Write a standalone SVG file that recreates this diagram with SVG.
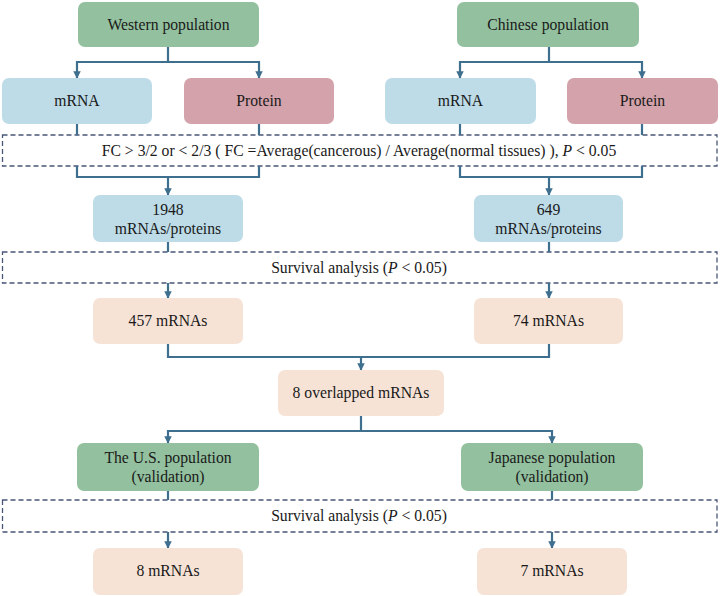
<svg xmlns="http://www.w3.org/2000/svg" width="720" height="596" viewBox="0 0 720 596">
<defs>
<style>
.green{fill:#93c19f}
.blue{fill:#bddce8}
.pink{fill:#d4a2aa}
.peach{fill:#f6e3d6}
.dash{fill:#ffffff;stroke:#4a5677;stroke-width:1.3;stroke-dasharray:5 3}
.t{font-family:"Liberation Serif","Times New Roman",serif;font-size:15.7px;fill:#1a1a1a;text-anchor:middle}
.c{fill:none;stroke:#3f6f8e;stroke-width:2.2}
</style>
<marker id="ah" viewBox="0 0 10 10" refX="9" refY="5" markerWidth="3.4" markerHeight="3.4" orient="auto" markerUnits="strokeWidth">
<path d="M0,0 L10,5 L0,10 z" fill="#3f6f8e"/>
</marker>
</defs>
<rect width="720" height="596" fill="#ffffff"/>

<g id="filters">
<rect class="dash" x="2.5" y="135" width="714.5" height="31"/>
<rect class="dash" x="2.5" y="252" width="714.5" height="31"/>
<rect class="dash" x="2.5" y="500" width="714.5" height="32"/>
</g>

<g id="connectors">
<path class="c" d="M168,47 V62 M77,62 H259 M77,61 V78" marker-end="url(#ah)"/>
<path class="c" d="M259,61 V78" marker-end="url(#ah)"/>
<path class="c" d="M549,47 V62 M460,62 H642 M460,61 V78" marker-end="url(#ah)"/>
<path class="c" d="M642,61 V78" marker-end="url(#ah)"/>
<path class="c" d="M77,124 V135 M259,124 V135 M460,124 V135 M642,124 V135"/>
<path class="c" d="M77,166 V177 H259 V166 M460,166 V177 H642 V166"/>
<path class="c" d="M168,176 V195" marker-end="url(#ah)"/>
<path class="c" d="M549,176 V195" marker-end="url(#ah)"/>
<path class="c" d="M168,242 V252 M549,242 V252"/>
<path class="c" d="M168,283 V298" marker-end="url(#ah)"/>
<path class="c" d="M549,283 V298" marker-end="url(#ah)"/>
<path class="c" d="M168,344 V357 H549 V344"/>
<path class="c" d="M361,356 V370" marker-end="url(#ah)"/>
<path class="c" d="M361,416 V431 M168,431 H552"/>
<path class="c" d="M168,430 V443" marker-end="url(#ah)"/>
<path class="c" d="M552,430 V443" marker-end="url(#ah)"/>
<path class="c" d="M168,491 V500 M552,491 V500"/>
<path class="c" d="M168,532 V548" marker-end="url(#ah)"/>
<path class="c" d="M552,532 V548" marker-end="url(#ah)"/>
</g>

<g id="filter-labels">
<text class="t" x="359" y="155.5">FC &gt; 3/2 or &lt; 2/3 ( FC =Average(cancerous) / Average(normal tissues) ), <tspan font-style="italic">P</tspan> &lt; 0.05</text>
<text class="t" x="359" y="272.5">Survival analysis (<tspan font-style="italic">P</tspan> &lt; 0.05)</text>
<text class="t" x="359" y="521">Survival analysis (<tspan font-style="italic">P</tspan> &lt; 0.05)</text>
</g>

<g id="western">
<rect class="green" x="78" y="2" width="181" height="45" rx="7"/>
<text class="t" x="168.5" y="30">Western population</text>
</g>
<g id="chinese">
<rect class="green" x="457" y="2" width="182" height="45" rx="7"/>
<text class="t" x="548" y="30">Chinese population</text>
</g>
<g id="mrna-w">
<rect class="blue" x="2" y="78" width="150" height="46" rx="7"/>
<text class="t" x="77" y="106">mRNA</text>
</g>
<g id="protein-w">
<rect class="pink" x="184" y="78" width="150" height="46" rx="7"/>
<text class="t" x="259" y="106">Protein</text>
</g>
<g id="mrna-c">
<rect class="blue" x="385" y="78" width="151" height="46" rx="7"/>
<text class="t" x="460.5" y="106">mRNA</text>
</g>
<g id="protein-c">
<rect class="pink" x="567" y="78" width="151" height="46" rx="7"/>
<text class="t" x="642.5" y="106">Protein</text>
</g>
<g id="n1948">
<rect class="blue" x="93" y="195" width="150" height="47" rx="7"/>
<text class="t" x="168" y="215">1948</text>
<text class="t" x="168" y="234">mRNAs/proteins</text>
</g>
<g id="n649">
<rect class="blue" x="474" y="195" width="149" height="47" rx="7"/>
<text class="t" x="548.5" y="215">649</text>
<text class="t" x="548.5" y="234">mRNAs/proteins</text>
</g>
<g id="n457">
<rect class="peach" x="93" y="298" width="150" height="46" rx="7"/>
<text class="t" x="168" y="326">457 mRNAs</text>
</g>
<g id="n74">
<rect class="peach" x="474" y="298" width="149" height="46" rx="7"/>
<text class="t" x="548.5" y="326">74 mRNAs</text>
</g>
<g id="overlap">
<rect class="peach" x="278" y="370" width="166" height="46" rx="7"/>
<text class="t" x="361" y="398">8 overlapped mRNAs</text>
</g>
<g id="us">
<rect class="green" x="77" y="443" width="182" height="48" rx="7"/>
<text class="t" x="168" y="463">The U.S. population</text>
<text class="t" x="168" y="482">(validation)</text>
</g>
<g id="japan">
<rect class="green" x="461" y="443" width="182" height="48" rx="7"/>
<text class="t" x="552" y="463">Japanese population</text>
<text class="t" x="552" y="482">(validation)</text>
</g>
<g id="n8">
<rect class="peach" x="93" y="548" width="150" height="47" rx="7"/>
<text class="t" x="168" y="576">8 mRNAs</text>
</g>
<g id="n7">
<rect class="peach" x="477" y="548" width="150" height="47" rx="7"/>
<text class="t" x="552" y="576">7 mRNAs</text>
</g>
</svg>
